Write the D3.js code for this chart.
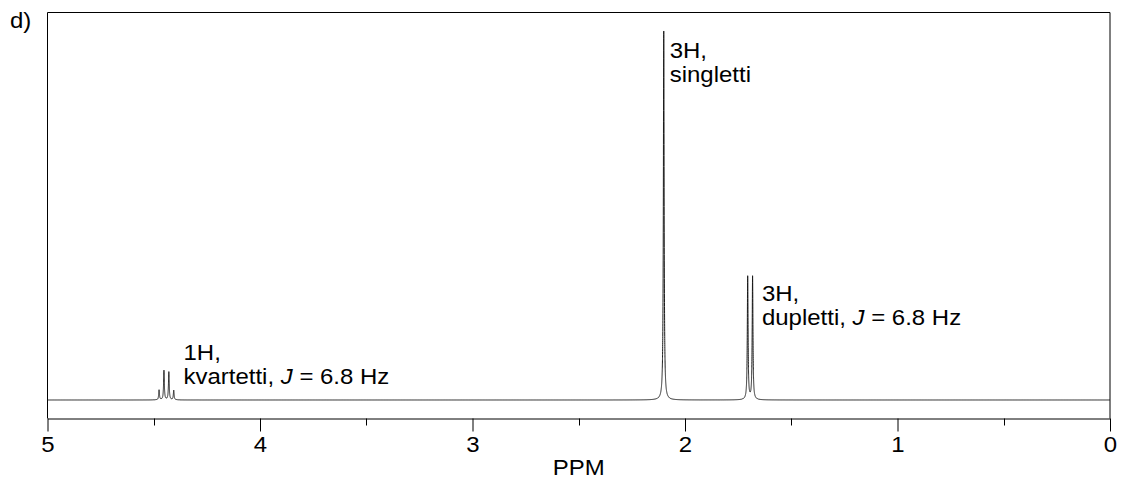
<!DOCTYPE html>
<html>
<head>
<meta charset="utf-8">
<script src="https://cdn.jsdelivr.net/npm/d3@7"></script>
<style>
    html, body { margin: 0; padding: 0; background: #fff; }
    svg text { font-family: Arial, "Liberation Sans", sans-serif; fill: #000; }
</style>
</head>
<body>
<div id="chart"></div>
<script>
// peaks (ppm, relative height)
const peakPositions = [4.475, 4.452, 4.429, 4.406, 2.100, 1.705, 1.682];
const peakHeights = [0.027, 0.080, 0.076, 0.026, 1.000, 0.334, 0.334];
const lineHalfWidth = 0.0021; // ppm

const majorTicks = [5, 4, 3, 2, 1, 0];
const minorTicks = [4.5, 3.5, 2.5, 1.5, 0.5];

const annotationPpm = [4.36, 2.072, 1.638];
const annotationLevel = [0.108, 0.927, 0.268];
const annotationLines = [
    ['1H,', 'kvartetti, |J| = 6.8 Hz'],
    ['3H,', 'singletti'],
    ['3H,', 'dupletti, |J| = 6.8 Hz']
];

const width = 1123;
const height = 484;
const margin = { top: 12.5, right: 13, bottom: 65.5, left: 47.5 };
const fontSize = 22;
const textStretch = 1.09;

const svg = d3.select('#chart').append('svg')
    .attr('width', width)
    .attr('height', height);

const xScale = d3.scaleLinear()
    .domain([5, 0])
    .range([margin.left, width - margin.right]);

const yScale = d3.scaleLinear()
    .domain([0, 1])
    .range([400, 31]);

const axisY = height - margin.bottom;

function intensityAt(ppm) {
    let total = 0;
    peakPositions.forEach((center, index) => {
        const offset = ppm - center;
        total += peakHeights[index] * lineHalfWidth * lineHalfWidth / (offset * offset + lineHalfWidth * lineHalfWidth);
    });
    return total;
}

// sample coarsely everywhere, finely around each line
const samples = new Set(d3.range(0, 5.0001, 0.002).map((value) => +value.toFixed(5)));
peakPositions.forEach((center) => {
    d3.range(-0.03, 0.03, 0.0001).forEach((step) => samples.add(+(center + step).toFixed(5)));
    samples.add(center);
});
const spectrum = Array.from(samples)
    .filter((ppm) => ppm >= 0 && ppm <= 5)
    .sort((first, second) => d3.ascending(first, second))
    .map((ppm) => ({ ppm, value: intensityAt(ppm) }));

// frame
svg.append('path')
    .attr('d', `M${margin.left},${axisY}V${margin.top}H${width - margin.right}V${axisY}`)
    .attr('fill', 'none')
    .attr('stroke', '#000')
    .attr('stroke-width', 1);

// spectrum
svg.append('path')
    .datum(spectrum)
    .attr('fill', 'none')
    .attr('stroke', '#1a1a1a')
    .attr('stroke-width', 1)
    .attr('d', d3.line()
        .x((datum) => xScale(datum.ppm))
        .y((datum) => yScale(datum.value)));

// x axis
const axisGroup = svg.append('g')
    .attr('transform', `translate(0,${axisY})`);

axisGroup.call(d3.axisBottom(xScale)
        .tickValues(majorTicks)
        .tickSize(13)
        .tickSizeOuter(0)
        .tickFormat(d3.format('d')))
    .call((group) => group.select('.domain').attr('stroke', '#000'))
    .call((group) => group.selectAll('.tick line').attr('stroke', '#000'))
    .call((group) => group.selectAll('.tick text')
        .attr('y', 0)
        .attr('dy', 0)
        .attr('transform', `translate(0,33) scale(${textStretch},1)`)
        .attr('font-size', fontSize)
        .attr('font-family', 'Arial, "Liberation Sans", sans-serif'));

axisGroup.selectAll('.minor-tick')
    .data(minorTicks)
    .enter()
    .append('line')
    .attr('class', 'minor-tick')
    .attr('x1', (datum) => Math.round(xScale(datum)) + 0.5)
    .attr('x2', (datum) => Math.round(xScale(datum)) + 0.5)
    .attr('y1', 0)
    .attr('y2', 7)
    .attr('stroke', '#000');

svg.append('text')
    .attr('text-anchor', 'middle')
    .attr('font-size', fontSize)
    .attr('transform', `translate(${(xScale(5) + xScale(0)) / 2},475) scale(${textStretch},1)`)
    .text('PPM');

svg.append('text')
    .attr('font-size', fontSize)
    .attr('transform', `translate(10,28) scale(${textStretch},1)`)
    .text('d)');

// peak annotations
annotationLines.forEach((lines, index) => {
    const label = svg.append('text')
        .attr('font-size', fontSize)
        .attr('transform', `translate(${xScale(annotationPpm[index])},${yScale(annotationLevel[index])}) scale(${textStretch},1)`);

    lines.forEach((line, lineIndex) => {
        const row = label.append('tspan')
            .attr('x', 0)
            .attr('y', lineIndex * 24);
        line.split('|').forEach((part, partIndex) => {
            row.append('tspan')
                .attr('font-style', partIndex === 1 ? 'italic' : null)
                .text(part);
        });
    });
});
</script>
</body>
</html>
